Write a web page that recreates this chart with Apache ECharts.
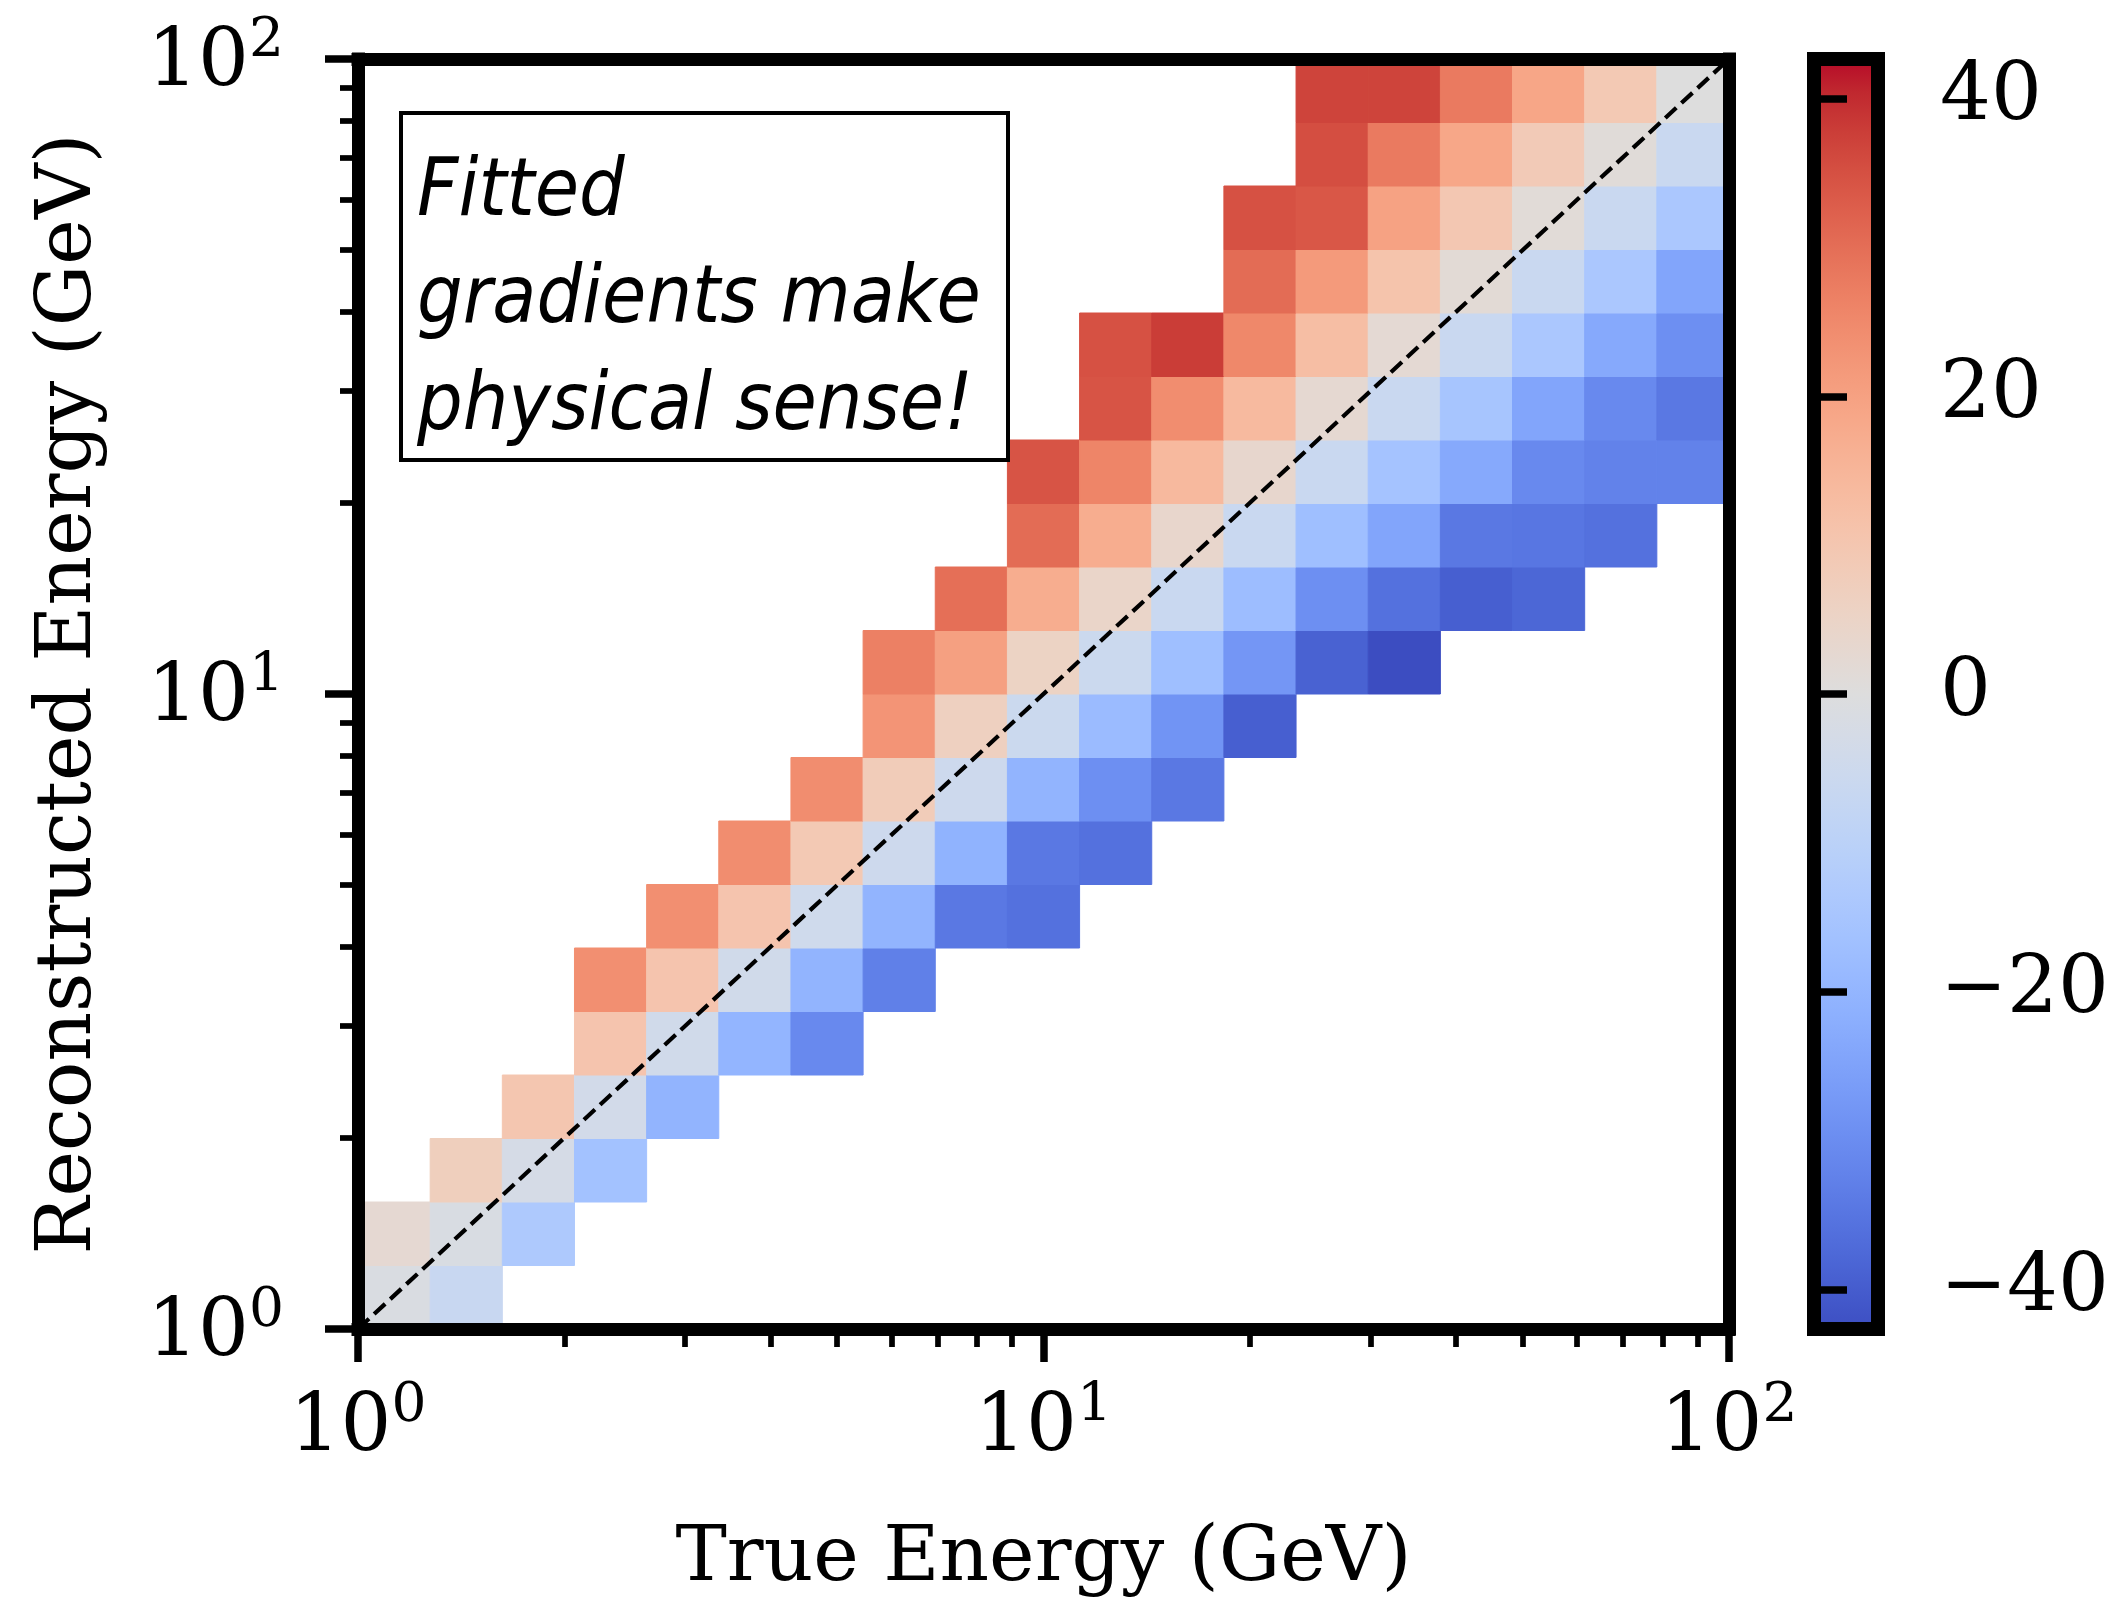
<!DOCTYPE html>
<html><head><meta charset="utf-8">
<script src="https://cdn.jsdelivr.net/npm/echarts@6/dist/echarts.min.js"></script>
<style>html,body{margin:0;padding:0;background:#fff;} #c{width:2117px;height:1597px;}</style>
</head><body><div id="c"></div>
<script>
// ---- data ----
const xBinCount = 19;          // true-energy bins across 10^0..10^2
const yBinCount = 20;          // reconstructed-energy bins across 10^0..10^2
const rowStart = [0,0,1,2,3,3,4,5,6,7,7,8,9,9,10,10,12,12,13,13];
const row00 = [-1.2, -6.5];
const row01 = [2.5, -1.5, -13.3];
const row02 = [7, -2.7, -16];
const row03 = [10, -3.5, -20];
const row04 = [10.5, -4, -19.8, -30.5];
const row05 = [23.5, 10.5, -4, -20, -32.5];
const row06 = [23.5, 10.5, -4.5, -20, -34, -35.5];
const row07 = [24, 9, -5, -20.5, -34, -35.5];
const row08 = [24, 8, -5, -20, -29, -34];
const row09 = [22.5, 6.5, -5.5, -18, -28, -39];
const row10 = [26.5, 20, 5.5, -5.5, -17, -27.5, -38.5, -42.5];
const row11 = [29.5, 17, 4.5, -6, -17.5, -29, -35.5, -39, -37.5];
const row12 = [30, 17, 3.7, -6, -17, -24, -34, -34.5, -35.5];
const row13 = [34, 25.5, 13.8, 3.5, -6, -15.5, -23, -30.5, -32, -32];
const row14 = [34, 24, 13.5, 2.7, -6, -15, -24, -30.5, -34];
const row15 = [34.5, 37.5, 25, 12.5, 2.2, -6, -14, -23, -29];
const row16 = [30, 21.3, 10.8, 1.8, -6, -14, -24];
const row17 = [34.5, 33.5, 19.5, 9.5, 1.3, -6, -14];
const row18 = [35, 27.5, 18.5, 8.5, 1, -6];
const row19 = [36.5, 36.5, 27.5, 18.7, 9, 0];
const rows = [row00,row01,row02,row03,row04,row05,row06,row07,row08,row09,
              row10,row11,row12,row13,row14,row15,row16,row17,row18,row19];
const colorLimit = 42.66;
const colorbarTicks = [-40, -20, 0, 20, 40];
const minorTickEnergies = [2,3,4,5,6,7,8,9,20,30,40,50,60,70,80,90];
const coolwarm = ['#3b4cc0','#445acc','#4d68d7','#5775e1','#6282ea','#6c8ef1','#779af7','#82a5fb','#8db0fe','#98b9ff','#a3c2ff','#aec9fd','#b8d0f9','#c2d5f4','#ccd9ee','#d5dbe6','#dddddd','#e5d8d1','#ecd3c5','#f1ccb9','#f5c4ad','#f7bba0','#f7b194','#f7a687','#f49a7b','#f18d6f','#ec7f63','#e57058','#de604d','#d55042','#cb3e38','#c0282f','#b40426'];
const annotation = 'Fitted\ngradients make\nphysical sense!';

// ---- build ----
const cells = [];
rows.forEach((r, j) => r.forEach((v, k) => {
  const i = rowStart[j] + k;
  cells.push([2 * i / xBinCount, 2 * (i + 1) / xBinCount, 2 * j / yBinCount, 2 * (j + 1) / yBinCount, v]);
}));
const minorLog = minorTickEnergies.map(e => Math.log10(e));

const SERIF = 'DejaVu Serif';
const tickRich = {
  b: { fontFamily: SERIF, fontSize: 80, color: '#000', verticalAlign: 'bottom', lineHeight: 90 },
  s: { fontFamily: SERIF, fontSize: 55, color: '#000', verticalAlign: 'top', lineHeight: 90 }
};
const powFmt = v => '{b|10}{s|' + Math.round(v) + '}';
const G = { left: 358, top: 59, width: 1371, height: 1270 };

const chart = echarts.init(document.getElementById('c'), null, { renderer: 'canvas' });
chart.setOption({
  animation: false,
  backgroundColor: '#fff',
  grid: [
    Object.assign({ outerBoundsMode: 'none', containLabel: false }, G),
    Object.assign({ outerBoundsMode: 'none', containLabel: false }, G),
    { outerBoundsMode: 'none', containLabel: false, left: 1814, top: 59, width: 64, height: 1270 }
  ],
  visualMap: {
    type: 'continuous', show: false, seriesIndex: 0, dimension: 4,
    min: -colorLimit, max: colorLimit, inRange: { color: coolwarm }
  },
  xAxis: [
    { gridIndex: 0, type: 'value', min: 0, max: 2, interval: 1, position: 'bottom', z: 10,
      axisLine: { show: true, onZero: false, lineStyle: { color: '#000', width: 13, cap: 'square' } },
      axisTick: { show: true, length: 33, lineStyle: { color: '#000', width: 7.5 } },
      axisLabel: { show: true, formatter: powFmt, rich: tickRich, margin: 50, showMinLabel: true, showMaxLabel: true },
      splitLine: { show: false },
      name: 'True Energy (GeV)', nameLocation: 'middle', nameGap: 192,
      nameTextStyle: { fontFamily: SERIF, fontSize: 77, color: '#000' } },
    { gridIndex: 0, type: 'value', min: 0, max: 2, position: 'top', z: 10,
      axisLine: { show: true, onZero: false, lineStyle: { color: '#000', width: 13, cap: 'square' } },
      axisTick: { show: false }, axisLabel: { show: false }, splitLine: { show: false } },
    { gridIndex: 1, type: 'value', min: 0, max: 2, position: 'bottom', z: 10,
      axisLine: { show: false, onZero: false },
      axisTick: { show: true, customValues: minorLog, length: 18, lineStyle: { color: '#000', width: 5.7 } },
      axisLabel: { show: false }, splitLine: { show: false } },
    { gridIndex: 2, type: 'value', min: 0, max: 1, show: false }
  ],
  yAxis: [
    { gridIndex: 0, type: 'value', min: 0, max: 2, interval: 1, position: 'left', z: 10,
      axisLine: { show: true, onZero: false, lineStyle: { color: '#000', width: 13, cap: 'square' } },
      axisTick: { show: true, length: 33, lineStyle: { color: '#000', width: 7.5 } },
      axisLabel: { show: true, formatter: powFmt, rich: tickRich, margin: 74, showMinLabel: true, showMaxLabel: true },
      splitLine: { show: false },
      name: 'Reconstructed Energy (GeV)', nameLocation: 'middle', nameGap: 250, nameRotate: 90,
      nameTextStyle: { fontFamily: SERIF, fontSize: 77, color: '#000' } },
    { gridIndex: 0, type: 'value', min: 0, max: 2, position: 'right', z: 10,
      axisLine: { show: true, onZero: false, lineStyle: { color: '#000', width: 13, cap: 'square' } },
      axisTick: { show: false }, axisLabel: { show: false }, splitLine: { show: false } },
    { gridIndex: 1, type: 'value', min: 0, max: 2, position: 'left', z: 10,
      axisLine: { show: false, onZero: false },
      axisTick: { show: true, customValues: minorLog, length: 18, lineStyle: { color: '#000', width: 5.7 } },
      axisLabel: { show: false }, splitLine: { show: false } },
    { gridIndex: 2, type: 'value', min: -colorLimit, max: colorLimit, position: 'right', z: 10,
      axisLine: { show: false },
      axisTick: { show: true, customValues: colorbarTicks, length: 33, lineStyle: { color: '#000', width: 7.5 } },
      axisLabel: { show: true, customValues: colorbarTicks, margin: 62,
        formatter: v => (v < 0 ? '\u2212' + (-v) : String(v)),
        fontFamily: SERIF, fontSize: 80, color: '#000' },
      splitLine: { show: false } }
  ],
  series: [
    { type: 'custom', xAxisIndex: 0, yAxisIndex: 0, z: 2, silent: true,
      encode: { x: [0, 1], y: [2, 3] },
      data: cells,
      renderItem: (params, api) => {
        const p1 = api.coord([api.value(0), api.value(3)]);
        const p2 = api.coord([api.value(1), api.value(2)]);
        const c = api.visual('color');
        return { type: 'rect', shape: { x: p1[0], y: p1[1], width: p2[0] - p1[0], height: p2[1] - p1[1] },
                 style: { fill: c, stroke: c, lineWidth: 1 } };
      } },
    { type: 'line', xAxisIndex: 0, yAxisIndex: 0, z: 5, silent: true, symbol: 'none',
      data: [[0, 0], [2, 2]],
      lineStyle: { color: '#000', width: 4.2, type: [15, 7] } },
    { type: 'custom', xAxisIndex: 3, yAxisIndex: 3, z: 5, silent: true,
      data: [[0, 1, -colorLimit, colorLimit]],
      renderItem: (params, api) => {
        const p1 = api.coord([api.value(0), api.value(3)]);
        const p2 = api.coord([api.value(1), api.value(2)]);
        const stops = coolwarm.map((c, i) => ({ offset: 1 - i / (coolwarm.length - 1), color: c })).reverse();
        return { type: 'rect', shape: { x: p1[0], y: p1[1], width: p2[0] - p1[0], height: p2[1] - p1[1] },
                 style: { fill: { type: 'linear', x: 0, y: 0, x2: 0, y2: 1, colorStops: stops },
                          stroke: '#000', lineWidth: 14, lineJoin: 'miter' } };
      } }
  ],
  graphic: [
    { type: 'rect', z: 100, shape: { x: 401, y: 113, width: 607, height: 347 },
      style: { fill: '#fff', stroke: '#000', lineWidth: 4 } },
    { type: 'text', z: 101, x: 417, y: 141,
      style: { text: annotation, font: 'oblique 80px "DejaVu Sans Condensed", "Liberation Sans", sans-serif',
               lineHeight: 107, fill: '#000', verticalAlign: 'top', align: 'left' } }
  ]
});
</script></body></html>
